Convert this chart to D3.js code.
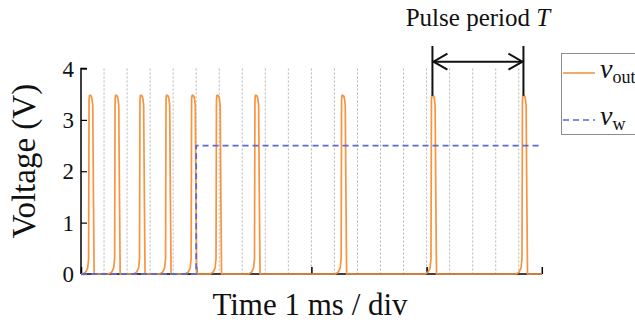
<!DOCTYPE html>
<html>
<head>
	<meta charset="utf-8">
	<title>Pulse output</title>
	<script src="https://cdn.jsdelivr.net/npm/d3@7"></script>
	<style>
		body {
			margin: 0;
			background: #fff;
		}
		svg text {
			font-family: "Liberation Serif", "DejaVu Serif", serif;
			fill: #111;
		}
	</style>
</head>

<body>

	<div id="chart"></div>

	<script>

		// data (time in divisions of 1 ms, voltage in V)

		const pulseStarts = [0.35, 1.48, 2.56, 3.69, 4.80, 5.88, 7.55, 11.31, 15.21, 19.16];

		// shape of one vout pulse: [time offset from rising edge, voltage]
		const pulseShape = [
			[-0.28, 0.0], [-0.14, 0.04], [-0.06, 0.12], [-0.02, 0.3],
			[0.0, 3.38], [0.015, 3.47], [0.04, 3.48], [0.10, 3.46],
			[0.13, 3.40], [0.16, 3.28], [0.19, 1.5], [0.22, 0.0]
		];

		const vwTimes  = [0, 5, 5, 20];
		const vwValues = [0, 0, 2.5, 2.5];

		const yTicks    = [0, 1, 2, 3, 4];
		const gridTimes = d3.range(1, 20);
		const xTicks    = [0, 5, 10, 15, 20];

		const width  = 635;
		const height = 324;

		const colorOut = "#f7943f";
		const colorW   = "#5b6bcb";

		const x = d3.scaleLinear([0, 20], [81, 541.8]);
		const y = d3.scaleLinear([0, 4], [274, 68.5]);

		// build the vout trace
		const vout = [[0, 0]];
		pulseStarts.forEach(t0 => {
			pulseShape.forEach(([dt, v]) => vout.push([t0 + dt, v]));
		});
		vout.push([20, 0]);

		const vw = vwTimes.map((t, i) => [t, vwValues[i]]);

		const svg = d3.select("#chart")
			.append("svg")
			.attr("width", width)
			.attr("height", height)
			.attr("viewBox", [0, 0, width, height]);

		// dotted vertical grid
		svg.append("g")
			.selectAll("line")
			.data(gridTimes)
			.join("line")
			.attr("x1", d => x(d))
			.attr("x2", d => x(d))
			.attr("y1", y(4))
			.attr("y2", y(0))
			.attr("stroke", "#b4b4b4")
			.attr("stroke-width", 1)
			.attr("stroke-dasharray", "2,2");

		// y axis, ticks pointing inward
		svg.append("g")
			.attr("transform", `translate(${x(0)},0)`)
			.call(d3.axisRight(y).tickValues(yTicks).tickSize(6).tickFormat(""))
			.call(g => g.select(".domain").attr("d", `M6,${y(4)}H0V${y(0)}`).attr("stroke-width", 1.5))
			.call(g => g.selectAll(".tick line").attr("stroke-width", 1.2));

		svg.append("g")
			.selectAll("text")
			.data(yTicks)
			.join("text")
			.attr("x", 74)
			.attr("y", d => y(d))
			.attr("dy", "0.35em")
			.attr("text-anchor", "end")
			.attr("font-size", 23)
			.text(d => d);

		// x axis, ticks pointing inward, no labels
		svg.append("g")
			.attr("transform", `translate(0,${y(0)})`)
			.call(d3.axisTop(x).tickValues(xTicks).tickSize(7).tickFormat(""))
			.call(g => g.select(".domain").attr("d", `M${x(0)},0H${x(20)}`).attr("stroke-width", 1.5))
			.call(g => g.selectAll(".tick line").attr("stroke-width", 1.5));

		const line = d3.line()
			.x(d => x(d[0]))
			.y(d => y(d[1]));

		svg.append("path")
			.datum(vout)
			.attr("fill", "none")
			.attr("stroke", colorOut)
			.attr("stroke-width", 1.7)
			.attr("stroke-linejoin", "round")
			.attr("d", line);

		svg.append("path")
			.datum(vw)
			.attr("fill", "none")
			.attr("stroke", colorW)
			.attr("stroke-width", 1.8)
			.attr("stroke-dasharray", "6,4")
			.attr("d", line);

		// axis titles
		svg.append("text")
			.attr("transform", `translate(35,161) rotate(-90)`)
			.attr("text-anchor", "middle")
			.attr("font-size", 33)
			.text("Voltage (V)");

		svg.append("text")
			.attr("x", 310)
			.attr("y", 315)
			.attr("text-anchor", "middle")
			.attr("font-size", 31)
			.text("Time 1 ms / div");

		// pulse period annotation
		const xa = x(pulseStarts[8]) + 1;
		const xb = x(pulseStarts[9]) + 1;
		const ya = 61.7;
		const ann = svg.append("g")
			.attr("stroke", "#111")
			.attr("stroke-width", 2)
			.attr("fill", "none");
		ann.append("line").attr("x1", xa).attr("x2", xa).attr("y1", 46).attr("y2", y(3.47));
		ann.append("line").attr("x1", xb).attr("x2", xb).attr("y1", 46).attr("y2", y(3.47));
		ann.append("line").attr("x1", xa).attr("x2", xb).attr("y1", ya).attr("y2", ya);
		ann.append("path").attr("d", `M${xa + 15},${ya - 8}L${xa + 1},${ya}L${xa + 15},${ya + 8}`);
		ann.append("path").attr("d", `M${xb - 15},${ya - 8}L${xb - 1},${ya}L${xb - 15},${ya + 8}`);

		const title = svg.append("text")
			.attr("x", (xa + xb) / 2)
			.attr("y", 26)
			.attr("text-anchor", "middle")
			.attr("font-size", 25);
		title.append("tspan").text("Pulse period ");
		title.append("tspan").attr("font-style", "italic").text("T");

		// legend
		const legend = svg.append("g");
		legend.append("rect")
			.attr("x", 561.5)
			.attr("y", 53.5)
			.attr("width", 100)
			.attr("height", 81)
			.attr("fill", "#fff")
			.attr("stroke", "#8c8c8c")
			.attr("stroke-width", 1);

		const items = [
			{ sub: "out", color: colorOut, dash: null, ly: 73, ty: 78 },
			{ sub: "w", color: colorW, dash: "6,4", ly: 120, ty: 125 },
		];
		items.forEach(it => {
			legend.append("line")
				.attr("x1", 563)
				.attr("x2", 595)
				.attr("y1", it.ly)
				.attr("y2", it.ly)
				.attr("stroke", it.color)
				.attr("stroke-width", 1.6)
				.attr("stroke-dasharray", it.dash);
			const t = legend.append("text")
				.attr("x", 600)
				.attr("y", it.ty)
				.attr("font-size", 28);
			t.append("tspan").attr("font-style", "italic").text("v");
			t.append("tspan").attr("font-size", 18).attr("dy", 5).text(it.sub);
		});

	</script>

</body>

</html>
